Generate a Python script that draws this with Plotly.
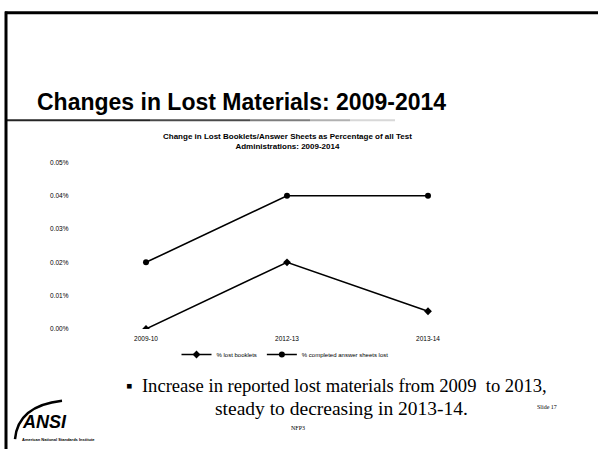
import plotly.graph_objects as go

W, H = 598, 452

categories = ["2009-10", "2012-13", "2013-14"]
lost_booklets = [0.0000, 0.0002, 0.000053]
lost_answer_sheets = [0.0002, 0.0004, 0.0004]
series_names = ["% lost booklets", "% completed answer sheets lost"]
y_ticks = [0.0, 0.0001, 0.0002, 0.0003, 0.0004, 0.0005]
y_tick_labels = ["0.00%", "0.01%", "0.02%", "0.03%", "0.04%", "0.05%"]

def px(x):
    return x / W

def py(y):
    return 1 - y / H

fig = go.Figure()
for name, vals, sym in [(series_names[0], lost_booklets, "diamond"),
                        (series_names[1], lost_answer_sheets, "circle")]:
    fig.add_trace(go.Scatter(
        x=categories, y=vals, name=name, mode="lines+markers",
        line=dict(color="black", width=1.6),
        marker=dict(color="black", size=6, symbol=sym),
    ))

shapes = [
    dict(type="line", xref="paper", yref="paper", x0=px(5), x1=px(598), y0=py(9), y1=py(9),
         line=dict(color="black", width=3)),
    dict(type="line", xref="paper", yref="paper", x0=px(6), x1=px(6), y0=py(7.5), y1=py(452),
         line=dict(color="black", width=3)),
]
segs = [(5, 150, 0.85), (150, 250, 0.7), (250, 310, 0.5), (310, 350, 0.3), (350, 395, 0.15)]
for a, b, op in segs:
    shapes.append(dict(type="line", xref="paper", yref="paper", x0=px(a), x1=px(b),
                       y0=py(118), y1=py(118), opacity=op, line=dict(color="black", width=2)))
shapes.append(dict(type="path", xref="paper", yref="paper",
                   path=f"M {px(62):.4f} {py(403):.4f} Q {px(18):.4f} {py(408):.4f} {px(15):.4f} {py(442):.4f}",
                   line=dict(color="black", width=2.5)))

def ann(text, x, y, xanchor, family, size):
    return dict(text=text, x=px(x), y=py(y), xref="paper", yref="paper", xanchor=xanchor,
                yanchor="middle", showarrow=False, font=dict(family=family, size=size, color="black"))

annotations = [
    ann("<b>Changes in Lost Materials: 2009-2014</b>", 35, 100, "left", "Liberation Sans", 23),
    ann("<b>Change in Lost Booklets/Answer Sheets as Percentage of all Test<br>Administrations: 2009-2014</b>",
        287, 140, "center", "Liberation Sans", 8),
    ann("\u25aa  Increase in reported lost materials from 2009  to 2013,", 124, 388, "left", "Liberation Serif", 18.6),
    ann("steady to decreasing in 2013-14.", 341, 411, "center", "Liberation Serif", 19.5),
    ann("<b><i>ANSI</i></b>", 20, 425, "left", "Liberation Sans", 18),
    ann("<b>American National Standards Institute</b>", 20, 442, "left", "Liberation Sans", 4),
    ann("Slide 17", 547, 409, "center", "Liberation Serif", 6),
    ann("NFP3", 298, 431, "center", "Liberation Serif", 6),
]

fig.update_layout(
    width=W, height=H, autosize=False,
    margin=dict(l=0, r=0, t=0, b=0),
    paper_bgcolor="white", plot_bgcolor="white",
    xaxis=dict(domain=[px(75.5), px(498.5)], type="category", range=[-0.5, 2.5],
               showgrid=False, zeroline=False, showline=False, ticks="", ticklabelstandoff=5,
               tickfont=dict(family="Liberation Sans", size=6.5, color="black")),
    yaxis=dict(domain=[py(330), py(161)], range=[0, 0.0005], tickvals=y_ticks, ticktext=y_tick_labels,
               showgrid=False, zeroline=False, showline=False, ticks="", ticklabelstandoff=6,
               tickfont=dict(family="Liberation Sans", size=6.5, color="black")),
    showlegend=True,
    legend=dict(orientation="h", x=px(285), xanchor="center", y=py(356), yanchor="middle",
                font=dict(family="Liberation Sans", size=6, color="black"),
                bgcolor="rgba(0,0,0,0)"),
    shapes=shapes, annotations=annotations,
)

fig.write_html("out.html", post_script="document.body.style.margin='0';",
               config={"displayModeBar": False})
